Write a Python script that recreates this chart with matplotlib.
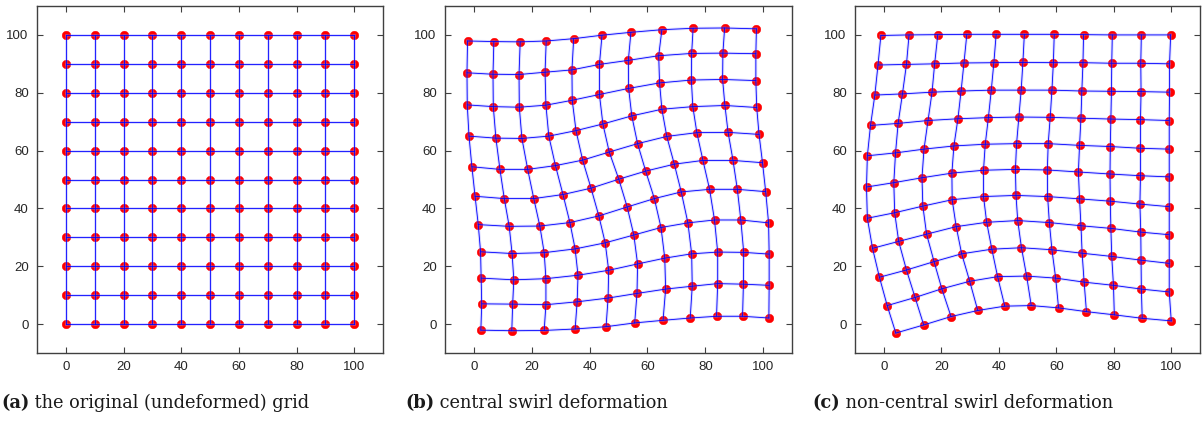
import numpy as np
import matplotlib
matplotlib.use("Agg")
from matplotlib import pyplot as plt

# grid node coordinates, rows from bottom (0) to top (10), columns left to right
grid_a = [0, 10, 20, 30, 40, 50, 60, 70, 80, 90, 100]

swirl_x = [
    [2.4, 13.1, 24.3, 35.0, 45.7, 55.6, 65.4, 74.8, 83.9, 92.9, 102.0],
    [2.7, 13.4, 24.9, 35.7, 46.4, 56.4, 66.3, 75.5, 84.3, 93.2, 102.1],
    [2.5, 13.8, 24.9, 36.0, 46.6, 56.6, 66.0, 75.3, 84.3, 93.3, 102.1],
    [2.3, 13.2, 24.3, 35.0, 45.4, 55.3, 64.7, 74.0, 83.2, 92.3, 101.9],
    [1.5, 12.2, 22.8, 33.2, 43.2, 53.0, 62.4, 71.7, 81.5, 91.1, 100.9],
    [0.4, 10.5, 20.7, 30.8, 40.5, 50.1, 59.4, 69.3, 79.2, 89.6, 99.8],
    [-0.7, 9.0, 18.6, 28.2, 37.6, 46.8, 56.6, 66.7, 77.1, 87.9, 98.6],
    [-1.7, 7.6, 16.6, 25.9, 35.3, 44.6, 54.6, 65.0, 75.7, 86.8, 97.8],
    [-2.3, 6.7, 15.7, 24.9, 34.0, 43.4, 53.5, 64.2, 75.2, 86.0, 97.5],
    [-2.4, 6.6, 15.6, 24.6, 33.9, 43.4, 53.4, 63.9, 75.3, 86.1, 97.5],
    [-2.2, 6.9, 16.0, 25.0, 34.5, 44.3, 54.3, 65.0, 75.8, 86.7, 97.7],
]
swirl_y = [
    [-2.1, -2.3, -2.2, -1.7, -0.9, 0.4, 1.3, 2.1, 2.7, 2.7, 2.1],
    [7.0, 6.9, 6.7, 7.7, 9.0, 10.6, 12.1, 13.1, 14.0, 13.8, 13.4],
    [15.9, 15.3, 15.7, 16.9, 18.6, 20.8, 22.8, 24.3, 24.9, 24.8, 24.2],
    [25.0, 24.4, 24.7, 26.0, 28.1, 30.8, 33.4, 35.0, 36.0, 36.0, 35.0],
    [34.4, 33.8, 33.9, 35.1, 37.4, 40.5, 43.4, 45.7, 46.6, 46.6, 45.8],
    [44.2, 43.4, 43.4, 44.8, 47.0, 50.1, 52.9, 55.3, 56.6, 56.6, 55.8],
    [54.4, 53.5, 53.5, 54.8, 56.7, 59.5, 62.4, 64.9, 66.2, 66.3, 65.6],
    [65.0, 64.3, 64.2, 65.0, 66.9, 69.2, 72.0, 74.3, 75.2, 75.6, 74.9],
    [75.8, 75.2, 75.0, 75.7, 77.4, 79.4, 81.5, 83.4, 84.4, 84.6, 84.2],
    [86.9, 86.4, 86.3, 87.1, 87.9, 89.8, 91.2, 92.8, 93.6, 93.7, 93.5],
    [97.9, 97.7, 97.6, 97.9, 98.7, 99.9, 100.9, 101.8, 102.3, 102.4, 102.1],
]

offswirl_x = [
    [4.2, 13.9, 23.4, 32.7, 42.1, 51.3, 60.8, 70.5, 80.2, 89.9, 100.0],
    [1.2, 10.9, 20.2, 29.9, 39.6, 49.7, 59.8, 69.7, 79.9, 89.6, 99.3],
    [-1.5, 7.9, 17.5, 27.1, 37.6, 47.9, 58.5, 69.0, 79.3, 89.5, 99.3],
    [-3.9, 5.2, 14.9, 25.2, 35.8, 46.6, 57.6, 68.6, 79.0, 89.4, 99.3],
    [-5.7, 3.8, 13.6, 23.8, 34.7, 46.0, 57.0, 68.1, 78.8, 89.1, 99.3],
    [-6.0, 3.5, 13.3, 23.7, 34.7, 45.8, 56.9, 67.7, 78.7, 89.3, 99.3],
    [-5.7, 4.1, 14.0, 24.4, 35.3, 46.2, 57.2, 68.1, 78.8, 89.3, 99.3],
    [-4.6, 5.0, 15.4, 25.8, 36.4, 47.0, 57.9, 68.6, 79.0, 89.3, 99.3],
    [-3.1, 6.5, 16.8, 26.9, 37.4, 47.8, 58.5, 68.9, 79.2, 89.5, 99.4],
    [-2.0, 7.9, 17.7, 27.9, 38.3, 48.4, 59.0, 69.3, 79.3, 89.4, 99.4],
    [-1.0, 8.8, 18.8, 28.9, 39.1, 48.9, 59.3, 69.5, 79.5, 89.6, 99.8],
]
offswirl_y = [
    [-3.1, -0.3, 2.6, 4.7, 6.2, 6.4, 5.6, 4.3, 3.2, 2.0, 1.1],
    [6.4, 9.2, 12.2, 14.8, 16.4, 16.6, 15.9, 14.5, 13.4, 12.1, 11.1],
    [16.2, 18.7, 21.6, 24.3, 25.9, 26.4, 25.7, 24.5, 23.4, 22.1, 21.0],
    [26.2, 28.6, 31.1, 33.7, 35.2, 35.8, 35.1, 34.0, 33.1, 31.8, 30.9],
    [36.6, 38.5, 40.8, 43.0, 44.1, 44.5, 44.1, 43.3, 42.5, 41.5, 40.6],
    [47.4, 48.9, 50.6, 52.2, 53.2, 53.5, 53.3, 52.6, 51.9, 51.3, 50.9],
    [58.2, 59.2, 60.5, 61.6, 62.2, 62.4, 62.4, 61.8, 61.4, 60.8, 60.5],
    [68.7, 69.4, 70.4, 71.0, 71.4, 71.6, 71.5, 71.2, 70.9, 70.7, 70.4],
    [79.2, 79.6, 80.2, 80.6, 80.9, 80.9, 80.9, 80.6, 80.5, 80.4, 80.2],
    [89.6, 89.8, 90.0, 90.3, 90.4, 90.5, 90.4, 90.4, 90.2, 90.2, 90.0],
    [99.8, 100.0, 100.1, 100.2, 100.2, 100.2, 100.2, 100.1, 100.0, 100.0, 100.0],
]

ticks = [0, 20, 40, 60, 80, 100]
captions = [
    ("(a)", " the original (undeformed) grid"),
    ("(b)", " central swirl deformation"),
    ("(c)", " non-central swirl deformation"),
]


def draw_grid(ax, x, y):
    x = np.asarray(x)
    y = np.asarray(y)
    ax.plot(x.ravel(), y.ravel(), 'o', color='red', ms=6.2, mec='red',
            mew=0.3, zorder=2)
    for j in range(x.shape[0]):
        ax.plot(x[j], y[j], color='#7f7fff', lw=2.0, alpha=0.3, zorder=3)
        ax.plot(x[j], y[j], color='blue', lw=0.6, zorder=4)
    for i in range(x.shape[1]):
        ax.plot(x[:, i], y[:, i], color='#7f7fff', lw=2.0, alpha=0.3, zorder=3)
        ax.plot(x[:, i], y[:, i], color='blue', lw=0.6, zorder=4)


def style_axes(ax):
    ax.set_xlim(-10, 110)
    ax.set_ylim(-10, 110)
    ax.set_xticks(ticks)
    ax.set_yticks(ticks)
    ax.tick_params(direction='in', length=4, width=0.8, top=True, right=True,
                   labelsize=9.5, labelcolor='#262626', color='#404040', pad=6)
    for s in ax.spines.values():
        s.set_color('#404040')
        s.set_linewidth(1.0)
    for lab in ax.get_xticklabels() + ax.get_yticklabels():
        lab.set_family('Liberation Sans')


def main():
    W, H = 1202, 421
    fig = plt.figure(figsize=(W / 100, H / 100), dpi=100)

    gx, gy = np.meshgrid(grid_a, grid_a)
    panels = [(gx, gy), (swirl_x, swirl_y), (offswirl_x, offswirl_y)]
    lefts = [37, 445, 855]
    widths = [346, 347, 345]
    top, bottom = 6, 353

    for (x, y), l, w in zip(panels, lefts, widths):
        ax = fig.add_axes([l / W, (H - bottom) / H, w / W, (bottom - top) / H])
        draw_grid(ax, x, y)
        style_axes(ax)

    # captions: bold label followed by normal text
    fig.canvas.draw()
    r = fig.canvas.get_renderer()
    cap_x = [1, 405, 812]
    for (lab, rest), cx in zip(captions, cap_x):
        t = fig.text(cx / W, 1 - 403 / H, lab, fontsize=12.8, fontweight='bold',
                     family='DejaVu Serif', va='center', ha='left', color='#1a1a1a')
        bb = t.get_window_extent(renderer=r)
        fig.text(bb.x1 / W, 1 - 403 / H, rest, fontsize=12.8,
                 family='DejaVu Serif', va='center', ha='left', color='#1a1a1a')

    fig.savefig('out.png', dpi=100)


if __name__ == "__main__":
    main()
